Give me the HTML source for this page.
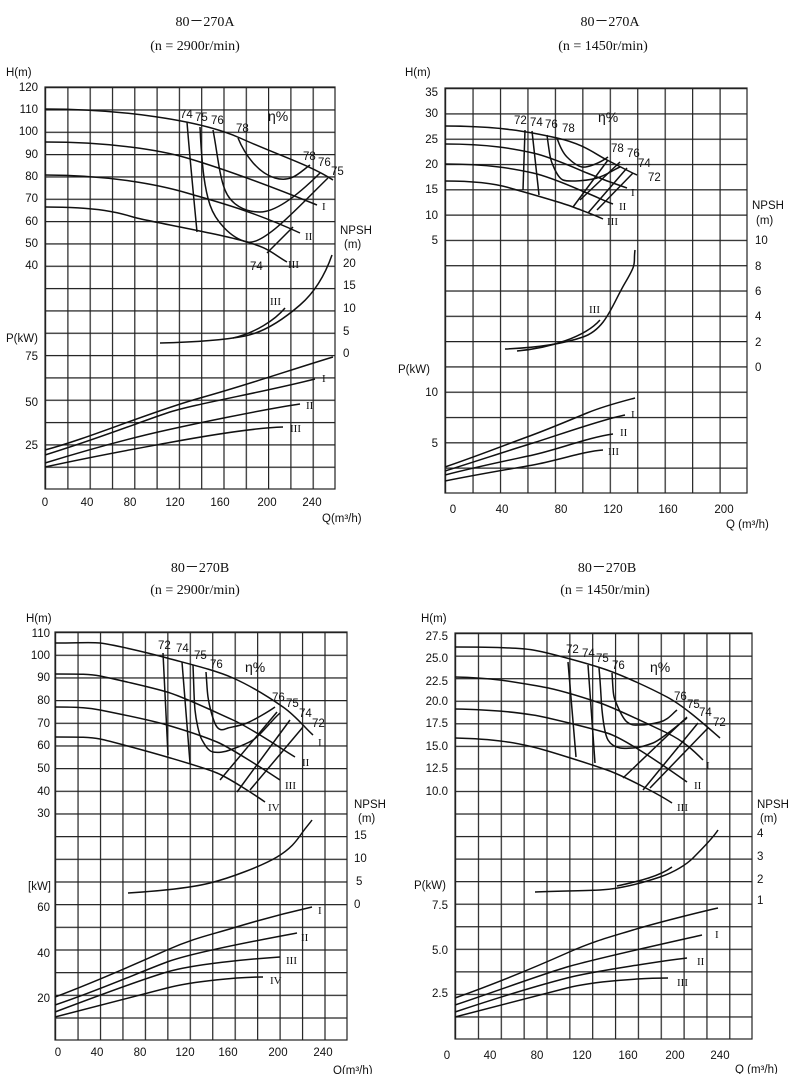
<!DOCTYPE html>
<html><head><meta charset="utf-8"><style>
html,body{margin:0;padding:0;background:#fff}
svg{display:block}
text{font-family:"Liberation Sans",sans-serif;font-size:11.5px;fill:#111}
.t{font-family:"Liberation Serif",serif;font-size:14px}
.r{text-anchor:end}.m{text-anchor:middle}
.c{fill:none;stroke:#111;stroke-width:1.5}
.g{fill:none;stroke:#222;stroke-width:1.2}
</style></head><body>
<svg width="800" height="1074" viewBox="0 0 800 1074" xmlns="http://www.w3.org/2000/svg">
<defs>
<pattern id="p1" patternUnits="userSpaceOnUse" x="45" y="87" width="22.3" height="22.33"><path d="M0.6 0V23M0 0.6H23" stroke="#222" stroke-width="1.2" fill="none"/></pattern>
<pattern id="p2" patternUnits="userSpaceOnUse" x="445" y="88" width="27.45" height="25.3"><path d="M0.6 0V26M0 0.6H28" stroke="#222" stroke-width="1.2" fill="none"/></pattern>
<pattern id="p3" patternUnits="userSpaceOnUse" x="55" y="632" width="22.45" height="22.67"><path d="M0.6 0V23M0 0.6H23" stroke="#222" stroke-width="1.2" fill="none"/></pattern>
<pattern id="p4" patternUnits="userSpaceOnUse" x="455" y="633" width="22.85" height="22.55"><path d="M0.6 0V23M0 0.6H23" stroke="#222" stroke-width="1.2" fill="none"/></pattern>
</defs>
<rect width="800" height="1074" fill="#fff"/>

<!-- Titles -->
<text class="t m" x="205" y="26">80－270A</text>
<text class="t m" x="195" y="50">(n = 2900r/min)</text>
<text class="t m" x="610" y="26">80－270A</text>
<text class="t m" x="603" y="50">(n = 1450r/min)</text>
<text class="t m" x="200" y="572">80－270B</text>
<text class="t m" x="195" y="594">(n = 2900r/min)</text>
<text class="t m" x="607" y="572">80－270B</text>
<text class="t m" x="605" y="594">(n = 1450r/min)</text>

<!-- ===== Chart 1 ===== -->
<rect x="45" y="87" width="290" height="402" fill="url(#p1)"/>
<rect x="45" y="87" width="290" height="402" class="g"/>
<text x="6" y="76">H(m)</text>
<g class="r">
<text x="38" y="91">120</text><text x="38" y="113">110</text><text x="38" y="135">100</text><text x="38" y="158">90</text><text x="38" y="180">80</text><text x="38" y="202">70</text><text x="38" y="225">60</text><text x="38" y="247">50</text><text x="38" y="269">40</text>
<text x="38" y="360">75</text><text x="38" y="406">50</text><text x="38" y="449">25</text>
</g>
<text x="6" y="342">P(kW)</text>
<text x="340" y="234">NPSH</text><text x="344" y="248">(m)</text>
<text x="343" y="267">20</text><text x="343" y="289">15</text><text x="343" y="312">10</text><text x="343" y="335">5</text><text x="343" y="357">0</text>
<g class="m"><text x="45" y="506">0</text><text x="87" y="506">40</text><text x="130" y="506">80</text><text x="175" y="506">120</text><text x="220" y="506">160</text><text x="267" y="506">200</text><text x="312" y="506">240</text></g>
<text x="322" y="522">Q(m³/h)</text>
<path class="c" d="M45 109C120 109 200 120 240 138S310 165 333 180"/>
<path class="c" d="M45 142C110 142 160 150 187 158S260 182 317 205"/>
<path class="c" d="M45 175C110 175 160 185 187 193S250 210 300 233"/>
<path class="c" d="M45 207C100 207 120 213 133 217S210 232 240 240S270 252 287 262"/>
<path class="c" d="M187 122C190 160 194 200 197 232"/>
<path class="c" d="M200 127C202 170 205 190 210 205S230 238 247 242S300 205 328 178"/>
<path class="c" d="M213 130C217 150 219 175 225 190S245 212 260 212S295 198 320 173"/>
<path class="c" d="M238 138C245 155 258 173 275 178S300 172 310 165"/>
<path class="c" d="M267 253L293 227"/>
<path class="c" d="M160 343C200 342 225 340 245 336S285 318 300 305S325 275 332 255"/>
<path class="c" d="M233 338C255 333 275 320 285 308"/>
<path class="c" d="M45 450C90 438 150 412 200 398S290 370 333 357"/>
<path class="c" d="M45 455C100 438 140 422 167 413S260 393 315 379"/>
<path class="c" d="M45 463C100 446 140 436 167 430S260 410 300 404"/>
<path class="c" d="M45 467C100 455 140 448 167 443S250 428 283 427"/>
<text x="180" y="118">74</text><text x="195" y="121">75</text><text x="211" y="124">76</text><text x="236" y="132">78</text><text x="268" y="121" style="font-size:14px">η%</text>
<text x="303" y="160">78</text><text x="318" y="166">76</text><text x="331" y="175">75</text>
<text x="322" y="210" class="t" style="font-size:11px">I</text><text x="305" y="240" class="t" style="font-size:11px">II</text><text x="288" y="268" class="t" style="font-size:11px">III</text>
<text x="250" y="270">74</text><text x="270" y="305" class="t" style="font-size:11px">III</text>
<text x="322" y="382" class="t" style="font-size:11px">I</text><text x="306" y="409" class="t" style="font-size:11px">II</text><text x="290" y="432" class="t" style="font-size:11px">III</text>

<!-- ===== Chart 2 ===== -->
<rect x="445" y="88" width="302" height="405" fill="url(#p2)"/>
<rect x="445" y="88" width="302" height="405" class="g"/>
<text x="405" y="76">H(m)</text>
<g class="r">
<text x="438" y="96">35</text><text x="438" y="117">30</text><text x="438" y="143">25</text><text x="438" y="168">20</text><text x="438" y="193">15</text><text x="438" y="219">10</text><text x="438" y="244">5</text>
<text x="438" y="396">10</text><text x="438" y="447">5</text>
</g>
<text x="398" y="373">P(kW)</text>
<text x="752" y="209">NPSH</text><text x="756" y="224">(m)</text>
<text x="755" y="244">10</text><text x="755" y="270">8</text><text x="755" y="295">6</text><text x="755" y="320">4</text><text x="755" y="346">2</text><text x="755" y="371">0</text>
<g class="m"><text x="453" y="513">0</text><text x="502" y="513">40</text><text x="561" y="513">80</text><text x="613" y="513">120</text><text x="668" y="513">160</text><text x="724" y="513">200</text></g>
<text x="726" y="528">Q (m³/h)</text>
<path class="c" d="M445 126C500 126 530 132 557 138S595 154 607 160S630 172 637 175"/>
<path class="c" d="M445 144C490 144 515 149 533 153S575 168 587 173S615 184 627 188"/>
<path class="c" d="M445 164C490 164 515 169 533 173S575 188 587 193S605 201 613 204"/>
<path class="c" d="M445 181C480 181 500 185 510 188S560 202 573 207S595 215 603 219"/>
<path class="c" d="M525 130L523 190"/><path class="c" d="M532 131L539 195"/>
<path class="c" d="M547 135C549 150 550 158 552 163S558 178 563 180S590 181 600 177S615 169 620 167"/>
<path class="c" d="M557 138C560 147 563 153 567 157S577 166 582 167S600 163 608 157"/>
<path class="c" d="M608 160L573 207"/><path class="c" d="M627 168L588 213"/><path class="c" d="M633 173L597 210"/><path class="c" d="M620 162L580 200"/>
<path class="c" d="M505 349C530 348 560 345 583 337S612 305 625 283S633 265 635 250"/>
<path class="c" d="M517 351C550 348 585 337 600 320"/>
<path class="c" d="M445 467C480 455 505 445 527 437S570 420 587 413S620 402 635 398"/>
<path class="c" d="M445 471C480 460 510 450 533 443S600 420 625 415"/>
<path class="c" d="M445 475C480 466 510 460 533 455S590 437 613 434"/>
<path class="c" d="M445 481C480 474 510 469 533 465S585 451 603 450"/>
<text x="514" y="124">72</text><text x="530" y="126">74</text><text x="545" y="128">76</text><text x="562" y="132">78</text><text x="598" y="122" style="font-size:14px">η%</text>
<text x="611" y="152">78</text><text x="627" y="157">76</text><text x="638" y="167">74</text><text x="648" y="181">72</text>
<text x="631" y="196" class="t" style="font-size:11px">I</text><text x="619" y="210" class="t" style="font-size:11px">II</text><text x="607" y="225" class="t" style="font-size:11px">III</text>
<text x="589" y="313" class="t" style="font-size:11px">III</text>
<text x="631" y="418" class="t" style="font-size:11px">I</text><text x="620" y="436" class="t" style="font-size:11px">II</text><text x="608" y="455" class="t" style="font-size:11px">III</text>

<!-- ===== Chart 3 ===== -->
<rect x="55" y="632" width="292" height="408" fill="url(#p3)"/>
<rect x="55" y="632" width="292" height="408" class="g"/>
<text x="26" y="622">H(m)</text>
<g class="r">
<text x="50" y="637">110</text><text x="50" y="659">100</text><text x="50" y="681">90</text><text x="50" y="704">80</text><text x="50" y="727">70</text><text x="50" y="749">60</text><text x="50" y="772">50</text><text x="50" y="795">40</text><text x="50" y="817">30</text>
<text x="50" y="911">60</text><text x="50" y="957">40</text><text x="50" y="1002">20</text>
</g>
<text x="28" y="890">[kW]</text>
<text x="354" y="808">NPSH</text><text x="358" y="822">(m)</text>
<text x="354" y="839">15</text><text x="354" y="862">10</text><text x="356" y="885">5</text><text x="354" y="908">0</text>
<g class="m"><text x="58" y="1056">0</text><text x="97" y="1056">40</text><text x="140" y="1056">80</text><text x="185" y="1056">120</text><text x="228" y="1056">160</text><text x="278" y="1056">200</text><text x="323" y="1056">240</text></g>
<text x="333" y="1074">Q(m³/h)</text>
<path class="c" d="M55 643C80 643 90 642 100 643S145 652 167 658S215 670 233 678S270 698 283 707S305 728 313 735"/>
<path class="c" d="M55 674C80 674 90 674 100 676S150 687 167 692S215 712 233 720S280 748 295 757"/>
<path class="c" d="M55 707C80 707 90 708 100 710S150 720 167 725S205 737 217 742S265 770 280 780"/>
<path class="c" d="M55 737C80 737 90 737 100 739S150 752 167 757S205 768 217 773S255 795 265 802"/>
<path class="c" d="M163 653L168 755"/><path class="c" d="M182 662L190 763"/>
<path class="c" d="M193 665C194 690 194 700 195 710S199 735 202 740S208 751 213 752S225 752 230 750S245 745 253 740S270 722 280 713"/>
<path class="c" d="M206 672C207 685 207 690 208 697S213 722 217 727S225 729 228 728S240 726 247 723S268 712 275 707"/>
<path class="c" d="M277 712L220 780"/><path class="c" d="M290 720L237 792"/><path class="c" d="M303 727L250 790"/>
<path class="c" d="M128 893C160 891 190 888 210 883S262 866 277 857S297 840 302 833S310 823 312 820"/>
<path class="c" d="M55 997C100 980 140 962 167 950S210 935 233 928S290 912 312 907"/>
<path class="c" d="M55 1005C100 990 140 972 167 962S270 938 297 933"/>
<path class="c" d="M55 1012C100 995 140 980 167 972S250 959 280 957"/>
<path class="c" d="M55 1017C100 1005 140 995 167 988S240 977 263 977"/>
<text x="158" y="649">72</text><text x="176" y="652">74</text><text x="194" y="659">75</text><text x="210" y="668">76</text><text x="245" y="672" style="font-size:14px">η%</text>
<text x="272" y="701">76</text><text x="286" y="707">75</text><text x="299" y="717">74</text><text x="312" y="727">72</text>
<text x="318" y="746" class="t" style="font-size:11px">I</text><text x="302" y="766" class="t" style="font-size:11px">II</text><text x="285" y="789" class="t" style="font-size:11px">III</text><text x="268" y="811" class="t" style="font-size:11px">IV</text>
<text x="318" y="914" class="t" style="font-size:11px">I</text><text x="301" y="941" class="t" style="font-size:11px">II</text><text x="286" y="964" class="t" style="font-size:11px">III</text><text x="270" y="984" class="t" style="font-size:11px">IV</text>

<!-- ===== Chart 4 ===== -->
<rect x="455" y="633" width="297" height="406" fill="url(#p4)"/>
<rect x="455" y="633" width="297" height="406" class="g"/>
<text x="421" y="622">H(m)</text>
<g class="r">
<text x="448" y="640">27.5</text><text x="448" y="662">25.0</text><text x="448" y="685">22.5</text><text x="448" y="705">20.0</text><text x="448" y="727">17.5</text><text x="448" y="750">15.0</text><text x="448" y="772">12.5</text><text x="448" y="795">10.0</text>
<text x="448" y="909">7.5</text><text x="448" y="954">5.0</text><text x="448" y="997">2.5</text>
</g>
<text x="414" y="889">P(kW)</text>
<text x="757" y="808">NPSH</text><text x="760" y="822">(m)</text>
<text x="757" y="837">4</text><text x="757" y="860">3</text><text x="757" y="883">2</text><text x="757" y="904">1</text>
<g class="m"><text x="447" y="1059">0</text><text x="490" y="1059">40</text><text x="537" y="1059">80</text><text x="582" y="1059">120</text><text x="628" y="1059">160</text><text x="675" y="1059">200</text><text x="720" y="1059">240</text></g>
<text x="735" y="1073">Q (m³/h)</text>
<path class="c" d="M455 647C500 647 520 648 533 650S590 664 607 670S650 688 667 697S705 725 720 738"/>
<path class="c" d="M455 677C500 678 525 684 543 687S585 698 600 703S650 725 667 733S695 752 703 760"/>
<path class="c" d="M455 709C500 710 520 713 533 715S590 728 607 733S670 770 687 782"/>
<path class="c" d="M455 738C500 739 520 744 533 747S590 764 607 770S660 795 672 803"/>
<path class="c" d="M568 662L576 757"/><path class="c" d="M588 665L595 763"/>
<path class="c" d="M599 668C601 690 601 700 602 710S605 735 608 740S615 747 620 748S628 748 633 748S645 746 653 743S678 725 687 718"/>
<path class="c" d="M612 673C613 688 613 695 615 700S622 718 627 722S635 725 640 725S652 724 660 722S672 714 677 710"/>
<path class="c" d="M687 717L623 778"/><path class="c" d="M698 723L643 790"/><path class="c" d="M708 728L650 788"/>
<path class="c" d="M535 892C560 891 580 891 600 890S645 882 660 877S687 864 693 858S713 838 718 830"/>
<path class="c" d="M617 886C640 881 660 876 672 867"/>
<path class="c" d="M455 998C500 982 540 965 567 953S610 937 633 930S700 912 718 908"/>
<path class="c" d="M455 1005C500 990 540 975 567 967S680 940 702 935"/>
<path class="c" d="M455 1012C500 997 540 985 567 978S670 960 687 958"/>
<path class="c" d="M455 1017C500 1005 540 995 567 988S645 978 668 978"/>
<text x="566" y="653">72</text><text x="582" y="657">74</text><text x="596" y="662">75</text><text x="612" y="669">76</text><text x="650" y="672" style="font-size:14px">η%</text>
<text x="674" y="700">76</text><text x="687" y="708">75</text><text x="699" y="716">74</text><text x="713" y="726">72</text>
<text x="706" y="769" class="t" style="font-size:11px">I</text><text x="694" y="789" class="t" style="font-size:11px">II</text><text x="677" y="811" class="t" style="font-size:11px">III</text>
<text x="715" y="938" class="t" style="font-size:11px">I</text><text x="697" y="965" class="t" style="font-size:11px">II</text><text x="677" y="986" class="t" style="font-size:11px">III</text>
</svg>
</body></html>
